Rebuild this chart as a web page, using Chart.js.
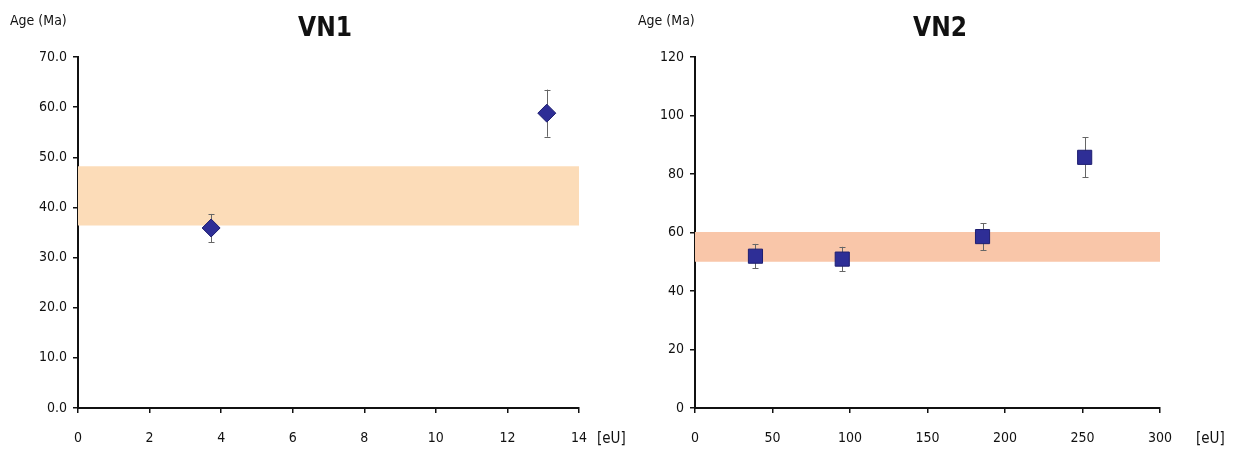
<!DOCTYPE html>
<html>
<head>
<meta charset="utf-8">
<script src="https://cdn.jsdelivr.net/npm/chart.js@4/dist/chart.umd.min.js"></script>
<style>
  html, body { margin: 0; padding: 0; background: #fff; }
  #wrap { position: relative; width: 1234px; height: 453px; overflow: hidden; }
  canvas { position: absolute; top: 0; }
  #c1 { left: 0; }
  #c2 { left: 617px; }
</style>
</head>
<body>
<div id="wrap">
  <canvas id="c2" width="617" height="453"></canvas>
  <canvas id="c1" width="640" height="453"></canvas>
</div>
<script>
// ---- VN1 data ----
const vn1Title = "VN1";
const vn1EU = [3.72, 13.1];
const vn1Age = [35.9, 58.8];
const vn1Err = [2.8, 4.7];
const vn1BandX = [0, 14];
const vn1Band = [36.4, 48.2];
const vn1XTicks = [0, 14, 2];
const vn1YTicks = [0, 70, 10];

// ---- VN2 data ----
const vn2Title = "VN2";
const vn2EU = [39, 95, 185.5, 251.4];
const vn2Age = [51.9, 50.9, 58.6, 85.7];
const vn2Err = [4.2, 4.2, 4.6, 6.8];
const vn2BandX = [0, 300];
const vn2Band = [50.0, 60.2];
const vn2XTicks = [0, 300, 50];
const vn2YTicks = [0, 120, 20];

const yLabel = "Age (Ma)";
const xLabel = "[eU]";

const FONT = "'Liberation Sans Narrow', 'DejaVu Sans Condensed', 'Arial Narrow', sans-serif";
Chart.defaults.font.family = FONT;
Chart.defaults.font.size = 14;
Chart.defaults.color = '#111';

const errorBarPlugin = {
  id: 'errorBars',
  beforeDatasetDraw(chart, args) {
    const ds = chart.data.datasets[args.index];
    if (!ds.errors) return;
    const ys = chart.scales.y, xs = chart.scales.x;
    const ctx = chart.ctx;
    ctx.save();
    ctx.strokeStyle = '#666';
    ctx.lineWidth = 1;
    ds.data.forEach((p, i) => {
      const e = ds.errors[i];
      const x = Math.round(xs.getPixelForValue(p.x)) + 0.5;
      const t = ys.getPixelForValue(p.y + e);
      const b = ys.getPixelForValue(p.y - e);
      ctx.beginPath();
      ctx.moveTo(x, t); ctx.lineTo(x, b);
      ctx.moveTo(x - 3, Math.round(t) + 0.5); ctx.lineTo(x + 3, Math.round(t) + 0.5);
      ctx.moveTo(x - 3, Math.round(b) + 0.5); ctx.lineTo(x + 3, Math.round(b) + 0.5);
      ctx.stroke();
    });
    ctx.restore();
  }
};

const labelsPlugin = {
  id: 'labels',
  afterDraw(chart, args, opts) {
    const ctx = chart.ctx;
    const ca = chart.chartArea;
    ctx.save();
    ctx.fillStyle = '#111';
    ctx.textBaseline = 'middle';
    ctx.font = "bold 26px " + FONT;
    ctx.textAlign = 'center';
    ctx.fillText(opts.title, opts.titleX, 29);
    ctx.font = "14px " + FONT;
    ctx.textAlign = 'left';
    ctx.fillText(yLabel, opts.yLabelX, 21);
    ctx.font = "15px " + FONT;
    ctx.fillText(xLabel, ca.right + opts.xLabelDX, 439);
    ctx.restore();
  }
};

function makeChart(id, cfg) {
  const bandTop = cfg.bandX.map(x => ({ x: x, y: cfg.band[1] }));
  const bandBot = cfg.bandX.map(x => ({ x: x, y: cfg.band[0] }));
  const pts = cfg.eu.map((x, i) => ({ x: x, y: cfg.age[i] }));
  return new Chart(document.getElementById(id), {
    type: 'scatter',
    data: {
      datasets: [
        {
          data: pts,
          errors: cfg.err,
          order: 0,
          pointStyle: cfg.marker,
          pointRadius: cfg.radius,
          backgroundColor: '#2e2e96',
          borderColor: '#1e1e70',
          borderWidth: 1
        },
        {
          type: 'line',
          data: bandTop,
          order: 1,
          borderWidth: 0,
          borderColor: 'rgba(0,0,0,0)',
          pointRadius: 0,
          fill: '+1',
          backgroundColor: cfg.bandColor
        },
        {
          type: 'line',
          data: bandBot,
          order: 2,
          borderWidth: 0,
          borderColor: 'rgba(0,0,0,0)',
          pointRadius: 0,
          fill: false
        }
      ]
    },
    options: {
      responsive: false,
      animation: false,
      events: [],
      layout: { padding: { left: 0, top: 57, right: cfg.padRight, bottom: 0 } },
      plugins: {
        legend: { display: false },
        tooltip: { enabled: false },
        title: { display: false },
        labels: { title: cfg.title, titleX: cfg.titleX, yLabelX: cfg.yLabelX, xLabelDX: cfg.xLabelDX }
      },
      scales: {
        x: {
          type: 'linear',
          min: cfg.xTicks[0], max: cfg.xTicks[1],
          ticks: { stepSize: cfg.xTicks[2], padding: 17, color: '#111' },
          grid: { drawOnChartArea: false, drawTicks: true, tickLength: 5, color: '#111', lineWidth: 1.5 },
          border: { display: true, color: '#111', width: 2 },
          afterFit(s) { s.height = 45; }
        },
        y: {
          type: 'linear',
          min: cfg.yTicks[0], max: cfg.yTicks[1],
          ticks: {
            stepSize: cfg.yTicks[2], padding: 6, color: '#111',
            callback: cfg.yFmt
          },
          grid: { drawOnChartArea: false, drawTicks: true, tickLength: 5, color: '#111', lineWidth: 1.5 },
          border: { display: true, color: '#111', width: 2 },
          afterFit(s) { s.width = 78; }
        }
      }
    },
    plugins: [errorBarPlugin, labelsPlugin]
  });
}

makeChart('c1', {
  eu: vn1EU, age: vn1Age, err: vn1Err, bandX: vn1BandX, band: vn1Band,
  xTicks: vn1XTicks, yTicks: vn1YTicks,
  marker: 'rectRot', radius: 9, bandColor: '#fcdcb8',
  padRight: 61, title: vn1Title, titleX: 325, yLabelX: 10, xLabelDX: 18,
  yFmt: v => Number(v).toFixed(1)
});

makeChart('c2', {
  eu: vn2EU, age: vn2Age, err: vn2Err, bandX: vn2BandX, band: vn2Band,
  xTicks: vn2XTicks, yTicks: vn2YTicks,
  marker: 'rect', radius: 10, bandColor: '#f9c6a9',
  padRight: 74, title: vn2Title, titleX: 323, yLabelX: 21, xLabelDX: 36,
  yFmt: v => String(v)
});
</script>
</body>
</html>
